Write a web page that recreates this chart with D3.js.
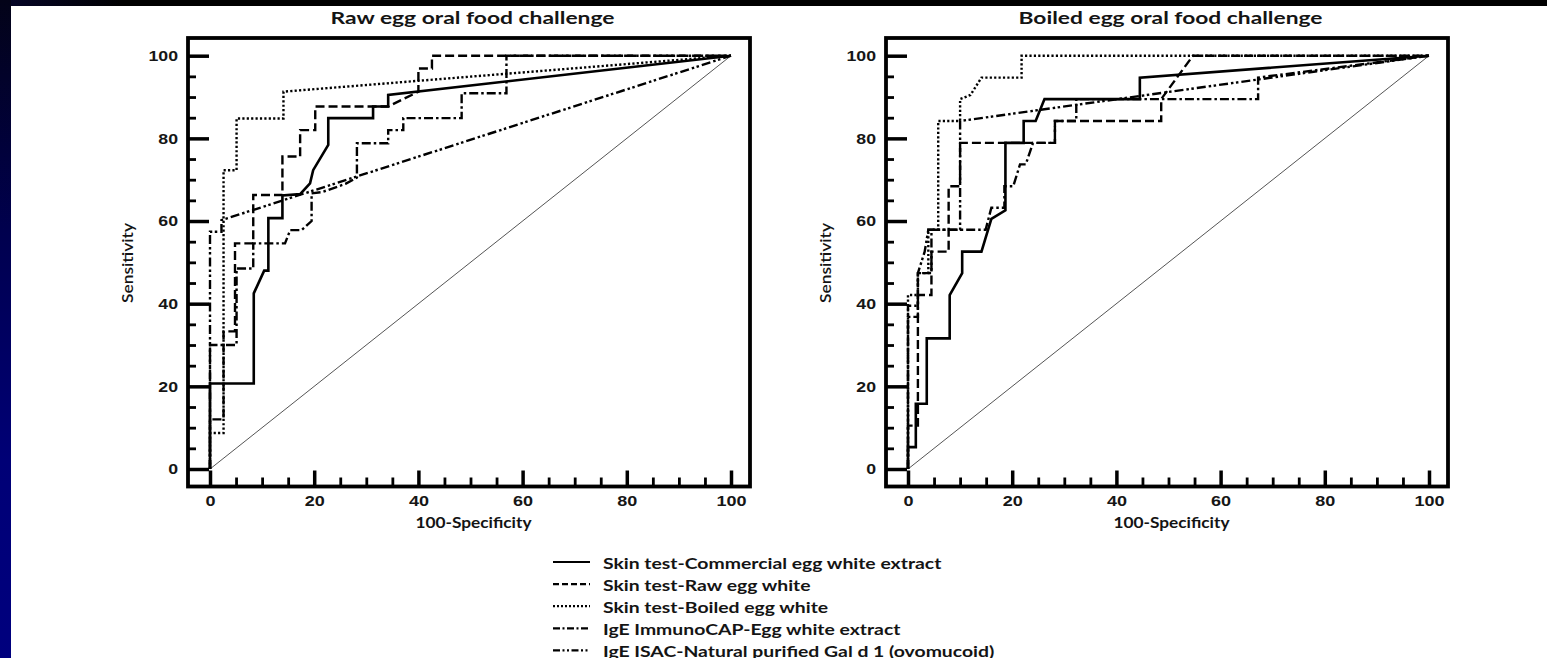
<!DOCTYPE html>
<html>
<head>
<meta charset="utf-8">
<script src="https://cdn.jsdelivr.net/npm/d3@7"></script>
<style>
  html, body { margin: 0; padding: 0; background: #fff; }
  svg { display: block; }
</style>
</head>
<body>
<svg id="chart" width="1547" height="658"></svg>
<script>
// Panel titles and legend entries
const panelTitles = ["Raw egg oral food challenge", "Boiled egg oral food challenge"];
const seriesNames = [
  "Skin test-Commercial egg white extract",
  "Skin test-Raw egg white",
  "Skin test-Boiled egg white",
  "IgE ImmunoCAP-Egg white extract",
  "IgE ISAC-Natural purified Gal d 1 (ovomucoid)"
];
const majorTicks = [0, 20, 40, 60, 80, 100];
const xAxisTitle = "100-Specificity";
const yAxisTitle = "Sensitivity";

// ROC curves, [100-specificity, sensitivity] — raw egg challenge
const rawCommercial = [[0,0],[0,20.7],[8.4,20.7],[8.4,42.5],[10.4,48],[11.2,48],[11.2,60.7],[13.9,60.7],[13.9,66.2],[17.3,66.5],[19.2,69.1],[19.8,72.3],[22.7,78.4],[22.7,84.9],[31.3,84.9],[31.3,87.7],[34.2,87.7],[34.2,90.5],[100,100]];
const rawRawWhite = [[0,0],[0,12],[2.6,12],[2.6,33.3],[4.8,33.3],[4.8,54.6],[8.3,54.6],[8.3,66.3],[13.9,66.3],[13.9,75.6],[17.3,75.6],[17.3,82],[20.2,82],[20.2,87.7],[34.2,87.7],[40,91.3],[40,96.9],[42.6,96.9],[42.6,100],[100,100]];
const rawBoiledWhite = [[0,0],[0,8.7],[2.6,8.7],[2.6,72.3],[5.1,72.3],[5.1,84.8],[14.1,84.8],[14.1,91.3],[100,100]];
const rawImmunoCAP = [[0,0],[0,30],[5.1,30],[5.1,48.5],[8.3,48.5],[8.3,54.6],[14.4,54.6],[15.4,57.8],[17.6,57.8],[19.5,60],[19.5,66.7],[21.5,67],[26,69],[28.2,70.5],[28.2,78.8],[34.2,78.8],[34.2,82],[37.1,82],[37.1,84.9],[48.3,84.9],[48.3,90.9],[56.9,90.9],[56.9,100],[100,100]];
const rawISAC = [[0,0],[0,57.4],[2.2,57.4],[2.2,60.2],[100,100]];

// ROC curves — boiled egg challenge
const boiledCommercial = [[0,0],[0,5.3],[1.5,5.3],[1.5,15.8],[3.6,15.8],[3.6,31.6],[8,31.6],[8,42.1],[10.4,47.4],[10.4,52.6],[14.1,52.6],[16,60.5],[18.7,62.6],[18.7,78.9],[22.2,78.9],[22.2,84.2],[24.5,84.2],[26.2,89.5],[44.5,89.5],[44.5,94.7],[100,100]];
const boiledRawWhite = [[0,0],[0,10.5],[1.9,10.5],[1.9,42.1],[4.5,42.1],[4.5,52.6],[7.8,52.6],[7.8,68.4],[10,68.4],[10,78.9],[28.2,78.9],[28.2,84.2],[48.6,84.2],[48.6,89.5],[54.7,100],[100,100]];
const boiledBoiledWhite = [[0,0],[0,42.1],[1.9,42.1],[1.9,47.4],[3.9,47.4],[3.9,57.9],[5.8,57.9],[5.8,84.2],[10,84.2],[10,89.5],[12,90.5],[14.1,94.7],[21.8,94.7],[21.8,100],[100,100]];
const boiledImmunoCAP = [[0,0],[0,36.8],[1.9,36.8],[1.9,47.4],[4.5,47.4],[4.5,57.9],[14.9,57.9],[16,63.2],[18.5,63.2],[18.5,68.4],[20.2,68.4],[21.5,73.7],[22.6,73.7],[24,78.9],[28.2,78.9],[28.2,84.2],[32.3,84.2],[32.3,89.5],[67.2,89.5],[67.2,94.7],[100,100]];
const boiledISAC = [[0,0],[0,39.5],[1.9,39.5],[1.9,47.4],[3.2,52.6],[3.9,57.9],[10,57.9],[10,84.2],[100,100]];

const rawPanelSeries = [rawCommercial, rawRawWhite, rawBoiledWhite, rawImmunoCAP, rawISAC];
const boiledPanelSeries = [boiledCommercial, boiledRawWhite, boiledBoiledWhite, boiledImmunoCAP, boiledISAC];

// Line styles per series: solid, dashed, dotted, dash-dot, dash-dot-dot
const dashStyles = [null, "9,4", "2.2,2.2", "9,3,2.5,3", "9,3,2.5,2.5,2.5,3"];
const legendDashStyles = [null, "6,3", "2,2", "7,2.5,2,2.5", "7,2.5,2,2.5,2,2.5"];

const svg = d3.select("#chart");
const W = 1547, H = 658;

// Text in this figure is set slightly wide; stretch glyphs horizontally by a factor
function widen(sel, factor) {
  sel.each(function () {
    const len = this.getComputedTextLength();
    d3.select(this).attr("textLength", len * factor).attr("lengthAdjust", "spacingAndGlyphs");
  });
}
function fitWidth(sel, width) {
  sel.attr("textLength", width).attr("lengthAdjust", "spacingAndGlyphs");
}

// Backdrop: white sheet with dark slide border on the left and top
const defs = svg.append("defs");
const gV = defs.append("linearGradient").attr("id", "leftBand").attr("x1", 0).attr("y1", 0).attr("x2", 0).attr("y2", 1);
gV.append("stop").attr("offset", "0%").attr("stop-color", "#030318");
gV.append("stop").attr("offset", "35%").attr("stop-color", "#00004e");
gV.append("stop").attr("offset", "70%").attr("stop-color", "#000076");
gV.append("stop").attr("offset", "100%").attr("stop-color", "#00007e");
const gH = defs.append("linearGradient").attr("id", "topBand").attr("x1", 0).attr("y1", 0).attr("x2", 1).attr("y2", 0);
gH.append("stop").attr("offset", "0%").attr("stop-color", "#05052a");
gH.append("stop").attr("offset", "8%").attr("stop-color", "#000000");
gH.append("stop").attr("offset", "100%").attr("stop-color", "#000000");

svg.append("rect").attr("width", W).attr("height", H).attr("fill", "#ffffff");
svg.append("rect").attr("x", 0).attr("y", 0).attr("width", W).attr("height", 6).attr("fill", "url(#topBand)");
svg.append("rect").attr("x", 0).attr("y", 0).attr("width", 11).attr("height", H).attr("fill", "url(#leftBand)");

const plotW = 521;           // width of 0..100 on the x axis
const yTop = 55.7, yBottom = 469;
const frameTop = 38, frameBottom = 486.5;
const titleWidths = [284, 304];

function drawPanel(x0, title, seriesList, titleWidth) {
  const x = d3.scaleLinear().domain([0, 100]).range([x0, x0 + plotW]);
  const y = d3.scaleLinear().domain([0, 100]).range([yBottom, yTop]);
  const frameLeft = x0 - 22, frameRight = x0 + plotW + 19;
  const g = svg.append("g");

  // Title
  g.append("text")
    .attr("x", x(50) + 2).attr("y", 24)
    .attr("text-anchor", "middle")
    .attr("font-family", "Lato, 'Open Sans', sans-serif")
    .attr("font-weight", 700)
    .attr("font-size", 17)
    .attr("fill", "#141414")
    .text(title)
    .call(fitWidth, titleWidth);

  // Chance diagonal
  g.append("line")
    .attr("x1", x(0)).attr("y1", y(0)).attr("x2", x(100)).attr("y2", y(100))
    .attr("stroke", "#555").attr("stroke-width", 1);

  // Curves
  const line = d3.line().x(d => x(d[0])).y(d => y(d[1]));
  seriesList.forEach((pts, i) => {
    g.append("path")
      .attr("d", line(pts))
      .attr("fill", "none")
      .attr("stroke", "#000")
      .attr("stroke-width", i === 0 ? 2.6 : 2.4)
      .attr("stroke-dasharray", dashStyles[i])
      .attr("stroke-linejoin", "miter");
  });

  // Frame
  g.append("rect")
    .attr("x", frameLeft).attr("y", frameTop)
    .attr("width", frameRight - frameLeft).attr("height", frameBottom - frameTop)
    .attr("fill", "none").attr("stroke", "#000").attr("stroke-width", 3.8);

  const minorVals = d3.range(5, 100, 5).filter(v => v % 20 !== 0);

  // Y axis: ticks point inward from the left frame
  const yMajor = g.append("g").attr("transform", `translate(${frameLeft},0)`)
    .call(d3.axisLeft(y).tickValues(majorTicks).tickSize(-21).tickPadding(10));
  const yMinor = g.append("g").attr("transform", `translate(${frameLeft},0)`)
    .call(d3.axisLeft(y).tickValues(minorVals).tickSize(-8).tickFormat(""));

  // X axis: ticks point upward from the bottom frame
  const xMajor = g.append("g").attr("transform", `translate(0,${frameBottom})`)
    .call(d3.axisBottom(x).tickValues(majorTicks).tickSize(-16).tickPadding(9));
  const xMinor = g.append("g").attr("transform", `translate(0,${frameBottom})`)
    .call(d3.axisBottom(x).tickValues(minorVals).tickSize(-9).tickFormat(""));

  [yMajor, yMinor, xMajor, xMinor].forEach(a => {
    a.select(".domain").remove();
    a.selectAll(".tick line").attr("stroke", "#000").attr("stroke-width", 3.5);
    a.selectAll(".tick text")
      .attr("font-family", "'Liberation Sans', Arial, sans-serif")
      .attr("font-weight", 700)
      .attr("font-size", 15)
      .attr("fill", "#161616");
  });
  yMinor.selectAll(".tick line").attr("stroke-width", 2.8);
  xMinor.selectAll(".tick line").attr("stroke-width", 2.8);
  widen(yMajor.selectAll(".tick text"), 1.18);
  widen(xMajor.selectAll(".tick text"), 1.2);

  // Axis titles
  g.append("text")
    .attr("transform", `translate(${frameLeft - 61},${263}) rotate(-90)`)
    .attr("text-anchor", "middle")
    .attr("dominant-baseline", "central")
    .attr("font-family", "Lato, 'Open Sans', sans-serif")
    .attr("font-weight", 600)
    .attr("font-size", 15)
    .attr("fill", "#141414")
    .text(yAxisTitle)
    .call(fitWidth, 80);
  g.append("text")
    .attr("x", x(50) + 3).attr("y", 528)
    .attr("text-anchor", "middle")
    .attr("font-family", "Lato, 'Open Sans', sans-serif")
    .attr("font-weight", 700)
    .attr("font-size", 15)
    .attr("fill", "#141414")
    .text(xAxisTitle)
    .call(widen, 1.15);
}

drawPanel(210, panelTitles[0], rawPanelSeries, titleWidths[0]);
drawPanel(908, panelTitles[1], boiledPanelSeries, titleWidths[1]);

// Legend
const legend = svg.append("g").attr("transform", "translate(553,562)");
seriesNames.forEach((name, i) => {
  const row = legend.append("g").attr("transform", `translate(0,${i * 22.1})`);
  row.append("line")
    .attr("x1", 0).attr("x2", 37).attr("y1", 0).attr("y2", 0)
    .attr("stroke", "#000").attr("stroke-width", 2.2)
    .attr("stroke-dasharray", legendDashStyles[i]);
  row.append("text")
    .attr("x", 50).attr("y", 0)
    .attr("dominant-baseline", "central")
    .attr("font-family", "Lato, 'Open Sans', sans-serif")
    .attr("font-weight", 700)
    .attr("font-size", 16)
    .attr("fill", "#141414")
    .text(name)
    .call(widen, 1.21);
});
</script>
</body>
</html>
